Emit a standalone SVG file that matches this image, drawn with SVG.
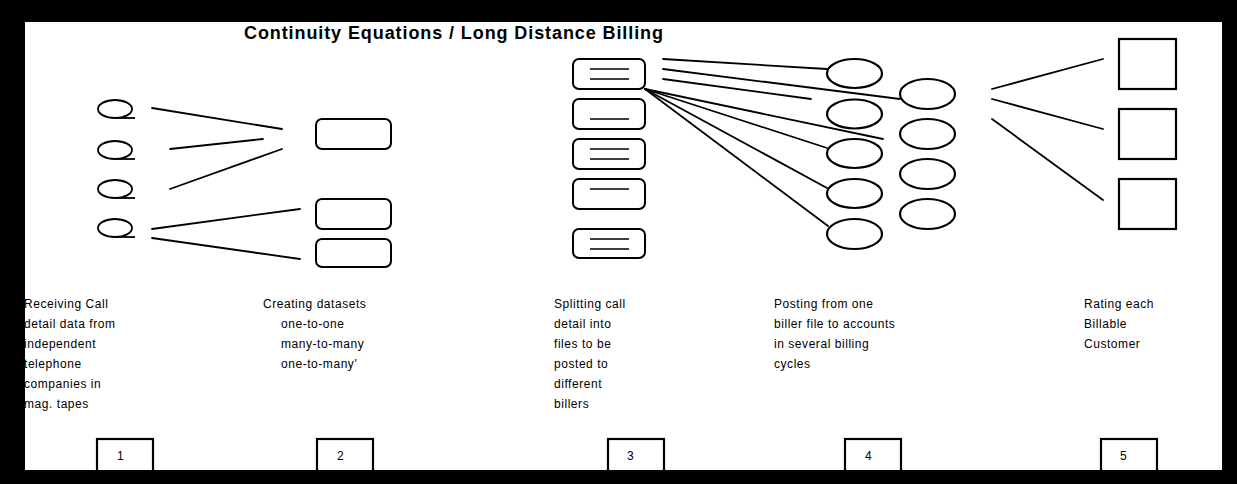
<svg xmlns="http://www.w3.org/2000/svg" width="1237" height="484" viewBox="0 0 1237 484">
<style>
.ln{stroke:#000;stroke-width:1.8;fill:none;stroke-linecap:round}
.q{stroke:#000;stroke-width:1.8;fill:none}
.rr{stroke:#000;stroke-width:2;fill:#fff}
.el{stroke:#000;stroke-width:2.2;fill:#fff}
.in{stroke:#000;stroke-width:1.5}
.sq{stroke:#000;stroke-width:2.2;fill:#fff}
.nb{stroke:#000;stroke-width:2.2;fill:#fff}
.t{font-family:"Liberation Sans",Arial,sans-serif;font-size:12px;letter-spacing:0.55px;fill:#000}
.title{font-family:"Liberation Sans",Arial,sans-serif;font-size:18px;font-weight:bold;fill:#000}
</style>
<defs>
<g id="qs"><ellipse cx="0" cy="0" rx="17" ry="9" class="q"/><line x1="2" y1="9" x2="20" y2="9" class="q"/></g>
</defs>
<rect x="0" y="0" width="1237" height="484" fill="#fff"/>
<text class="title" x="244" y="39" textLength="419" lengthAdjust="spacing">Continuity Equations / Long Distance Billing</text>

<g id="connectors">
<line class="ln" x1="152" y1="108" x2="282" y2="129"/>
<line class="ln" x1="170" y1="149" x2="263" y2="139"/>
<line class="ln" x1="170" y1="189" x2="282" y2="149"/>
<line class="ln" x1="152" y1="229" x2="300" y2="209"/>
<line class="ln" x1="152" y1="238" x2="300" y2="259"/>
<line class="ln" x1="663" y1="59" x2="827" y2="69"/>
<line class="ln" x1="663" y1="69" x2="900" y2="99"/>
<line class="ln" x1="663" y1="79" x2="811" y2="99"/>
<line class="ln" x1="645" y1="89" x2="883" y2="139"/>
<line class="ln" x1="645" y1="89" x2="827" y2="148"/>
<line class="ln" x1="645" y1="89" x2="827" y2="188"/>
<line class="ln" x1="645" y1="89" x2="828" y2="226"/>
<line class="ln" x1="992" y1="89" x2="1103" y2="59"/>
<line class="ln" x1="992" y1="99" x2="1103" y2="129"/>
<line class="ln" x1="992" y1="119" x2="1103" y2="200"/>
</g>

<g id="stage1-sources">
<use href="#qs" x="115" y="109"/>
<use href="#qs" x="115" y="150"/>
<use href="#qs" x="115" y="189"/>
<use href="#qs" x="115" y="228"/>
</g>

<g id="stage2-datasets">
<rect class="rr" x="316" y="119" width="75" height="30" rx="6"/>
<rect class="rr" x="316" y="199" width="75" height="30" rx="6"/>
<rect class="rr" x="316" y="239" width="75" height="28" rx="6"/>
</g>

<g id="stage3-files">
<rect class="rr" x="573" y="59" width="72" height="30" rx="6"/>
<line class="in" x1="590" y1="69" x2="629" y2="69"/><line class="in" x1="590" y1="79" x2="629" y2="79"/>
<rect class="rr" x="573" y="99" width="72" height="30" rx="6"/>
<line class="in" x1="590" y1="119" x2="629" y2="119"/>
<rect class="rr" x="573" y="139" width="72" height="30" rx="6"/>
<line class="in" x1="590" y1="149" x2="629" y2="149"/><line class="in" x1="590" y1="159" x2="629" y2="159"/>
<rect class="rr" x="573" y="179" width="72" height="30" rx="6"/>
<line class="in" x1="590" y1="189" x2="629" y2="189"/>
<rect class="rr" x="573" y="229" width="72" height="29" rx="6"/>
<line class="in" x1="590" y1="239" x2="629" y2="239"/><line class="in" x1="590" y1="249" x2="629" y2="249"/>
</g>

<g id="stage4-accounts">
<ellipse class="el" cx="854.5" cy="73.5" rx="27.5" ry="14.5"/>
<ellipse class="el" cx="854.5" cy="114" rx="27.5" ry="14.5"/>
<ellipse class="el" cx="854.5" cy="153.5" rx="27.5" ry="14.5"/>
<ellipse class="el" cx="854.5" cy="193.5" rx="27.5" ry="14.5"/>
<ellipse class="el" cx="854.5" cy="234" rx="27.5" ry="15"/>
<ellipse class="el" cx="927.5" cy="94" rx="27.5" ry="15"/>
<ellipse class="el" cx="927.5" cy="134" rx="27.5" ry="15"/>
<ellipse class="el" cx="927.5" cy="174" rx="27.5" ry="15"/>
<ellipse class="el" cx="927.5" cy="214" rx="27.5" ry="15"/>
</g>

<g id="stage5-customers">
<rect class="sq" x="1119" y="39" width="57" height="50"/>
<rect class="sq" x="1119" y="109" width="57" height="50"/>
<rect class="sq" x="1119" y="179" width="57" height="50"/>
</g>

<g id="label1">
<text class="t" x="24" y="308">Receiving Call</text>
<text class="t" x="24" y="328">detail data from</text>
<text class="t" x="24" y="348">independent</text>
<text class="t" x="24" y="368">telephone</text>
<text class="t" x="24" y="388">companies in</text>
<text class="t" x="24" y="408">mag. tapes</text>
</g>
<g id="label2">
<text class="t" x="263" y="308">Creating datasets</text>
<text class="t" x="281" y="328">one-to-one</text>
<text class="t" x="281" y="348">many-to-many</text>
<text class="t" x="281" y="368">one-to-many'</text>
</g>
<g id="label3">
<text class="t" x="554" y="308">Splitting call</text>
<text class="t" x="554" y="328">detail into</text>
<text class="t" x="554" y="348">files to be</text>
<text class="t" x="554" y="368">posted to</text>
<text class="t" x="554" y="388">different</text>
<text class="t" x="554" y="408">billers</text>
</g>
<g id="label4">
<text class="t" x="774" y="308">Posting from one</text>
<text class="t" x="774" y="328">biller file to accounts</text>
<text class="t" x="774" y="348">in several billing</text>
<text class="t" x="774" y="368">cycles</text>
</g>
<g id="label5">
<text class="t" x="1084" y="308">Rating each</text>
<text class="t" x="1084" y="328">Billable</text>
<text class="t" x="1084" y="348">Customer</text>
</g>

<g id="step1"><rect class="nb" x="97" y="439" width="56" height="34"/><text class="t" x="117" y="460">1</text></g>
<g id="step2"><rect class="nb" x="317" y="439" width="56" height="34"/><text class="t" x="337" y="460">2</text></g>
<g id="step3"><rect class="nb" x="608" y="439" width="56" height="34"/><text class="t" x="627" y="460">3</text></g>
<g id="step4"><rect class="nb" x="845" y="439" width="56" height="34"/><text class="t" x="865" y="460">4</text></g>
<g id="step5"><rect class="nb" x="1101" y="439" width="56" height="34"/><text class="t" x="1120" y="460">5</text></g>

<path d="M0 0H1237V484H0Z M25 22V470H1222V22Z" fill="#000" fill-rule="evenodd"/>
</svg>
